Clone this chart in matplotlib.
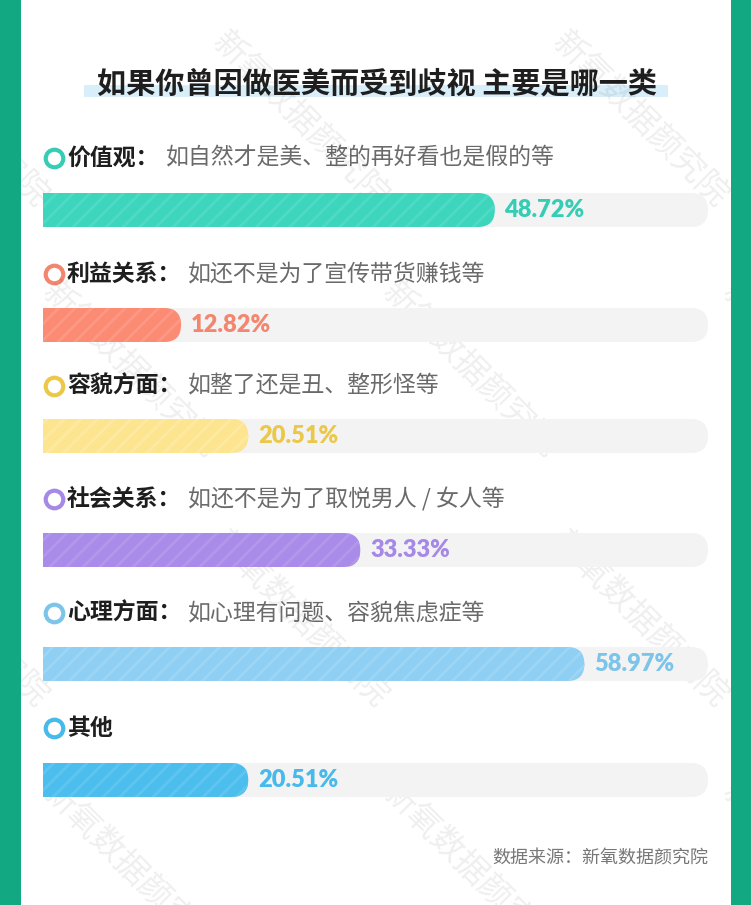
import matplotlib
matplotlib.use("Agg")
import matplotlib.pyplot as plt
from matplotlib.patches import FancyBboxPatch, Rectangle

plt.rcParams['font.family'] = ['Noto Sans CJK SC', 'DejaVu Sans']
plt.rcParams['hatch.linewidth'] = 2.0

# ---- data ----
title = "如果你曾因做医美而受到歧视 主要是哪一类"
categories = ["价值观：", "利益关系：", "容貌方面：", "社会关系：", "心理方面：", "其他"]
descriptions = ["如自然才是美、整的再好看也是假的等",
                "如还不是为了宣传带货赚钱等",
                "如整了还是丑、整形怪等",
                "如还不是为了取悦男人 / 女人等",
                "如心理有问题、容貌焦虑症等",
                ""]
values = [48.72, 12.82, 20.51, 33.33, 58.97, 20.51]
source = "数据来源：新氧数据颜究院"
watermark = "新氧数据颜究院"

# ---- colours ----
bar_colors = ["#3dd5bc", "#fb8b73", "#fde48e", "#a98be9", "#8fcff3", "#4cbeee"]
stripe_colors = ["#4fdac4", "#fc9884", "#fee9a2", "#b397eb", "#9dd5f4", "#5fc5f0"]
text_colors = ["#36cdb4", "#f3866e", "#ebc84a", "#a689e6", "#7dc4ea", "#47b9ea"]
green = "#12a982"

# ---- layout (pixels) ----
W, H = 751, 905
label_y = [158, 274, 386, 499, 613, 728]
bar_y = [210, 325, 436, 550, 664, 780]
bar_h = 34
X0_PX = 69          # pixel where 0% sits
PX_PER_PCT = 8.74   # pixels per percent
TRACK_END = (708 - X0_PX) / PX_PER_PCT

fig = plt.figure(figsize=(W / 100, H / 100), dpi=100)
ax = fig.add_axes([0, 0, 1, 1])
ax.set_xlim(0, W)
ax.set_ylim(H, 0)
ax.axis('off')

# green frame on both sides
ax.add_patch(Rectangle((0, 0), 21, H, color=green, lw=0, zorder=6))
ax.add_patch(Rectangle((731, 0), 20, H, color=green, lw=0, zorder=6))

# title with highlight stripe
ax.add_patch(Rectangle((84, 85), 584, 12, color="#d8eef8", lw=0, zorder=1))
ax.text(377, 83, title, fontsize=21, ha='center', va='center',
        color="#1e1e1e", weight='bold', zorder=2)

# category rows
for i, (cat, desc) in enumerate(zip(categories, descriptions)):
    y = label_y[i]
    ax.scatter([54], [y], s=160, facecolor='white', edgecolor=text_colors[i],
               linewidths=3.0, zorder=3)
    t = ax.text(67, y, cat, fontsize=16.5, ha='left', va='center',
                color="#1e1e1e", weight='bold', zorder=3)
    if desc:
        ax.annotate(desc, xy=(1, 0.5), xycoords=t, xytext=(5, 0),
                    textcoords='offset points', fontsize=16.5, ha='left',
                    va='center', color="#6a6a6a", zorder=3)

# bars in percent units
bax = fig.add_axes([43 / W, 0, (731 - 43) / W, 1])
bax.set_xlim(-(X0_PX - 43) / PX_PER_PCT, (731 - X0_PX) / PX_PER_PCT)
bax.set_ylim(H, 0)
bax.axis('off')
bax.patch.set_alpha(0)

xmin = bax.get_xlim()[0] - 5
r = (bar_h / 2) / PX_PER_PCT
style = f"round,pad=0,rounding_size={r}"
for i, v in enumerate(values):
    y = bar_y[i]
    bax.add_patch(FancyBboxPatch((xmin, y - bar_h / 2), TRACK_END - xmin, bar_h,
                                 boxstyle=style, mutation_aspect=PX_PER_PCT,
                                 fc="#f3f3f3", lw=0, zorder=1))
    bax.add_patch(FancyBboxPatch((xmin, y - bar_h / 2), v - xmin, bar_h,
                                 boxstyle=style, mutation_aspect=PX_PER_PCT,
                                 fc=bar_colors[i], ec=stripe_colors[i], lw=0,
                                 hatch='//', zorder=2))
    bax.annotate(f"{v:.2f}%", xy=(v, y), xytext=(7, 0), textcoords='offset points',
                 ha='left', va='center', fontsize=17, weight='heavy',
                 color=text_colors[i], family=['Lato', 'DejaVu Sans'], zorder=3)

# source
ax.text(708, 859, source, fontsize=13, ha='right', va='center', color="#777777")

# watermark tiles over the whole card
for row in range(-1, 5):
    for col in range(-2, 3):
        cx = 300 + col * 340 + (row % 2) * 170
        cy = 120 + row * 250
        ax.text(cx, cy, watermark, fontsize=24, rotation=-45, rotation_mode='anchor',
                ha='center', va='center', color="#000000", alpha=0.065, zorder=5,
                clip_on=True)

fig.savefig("out.png", dpi=100)
